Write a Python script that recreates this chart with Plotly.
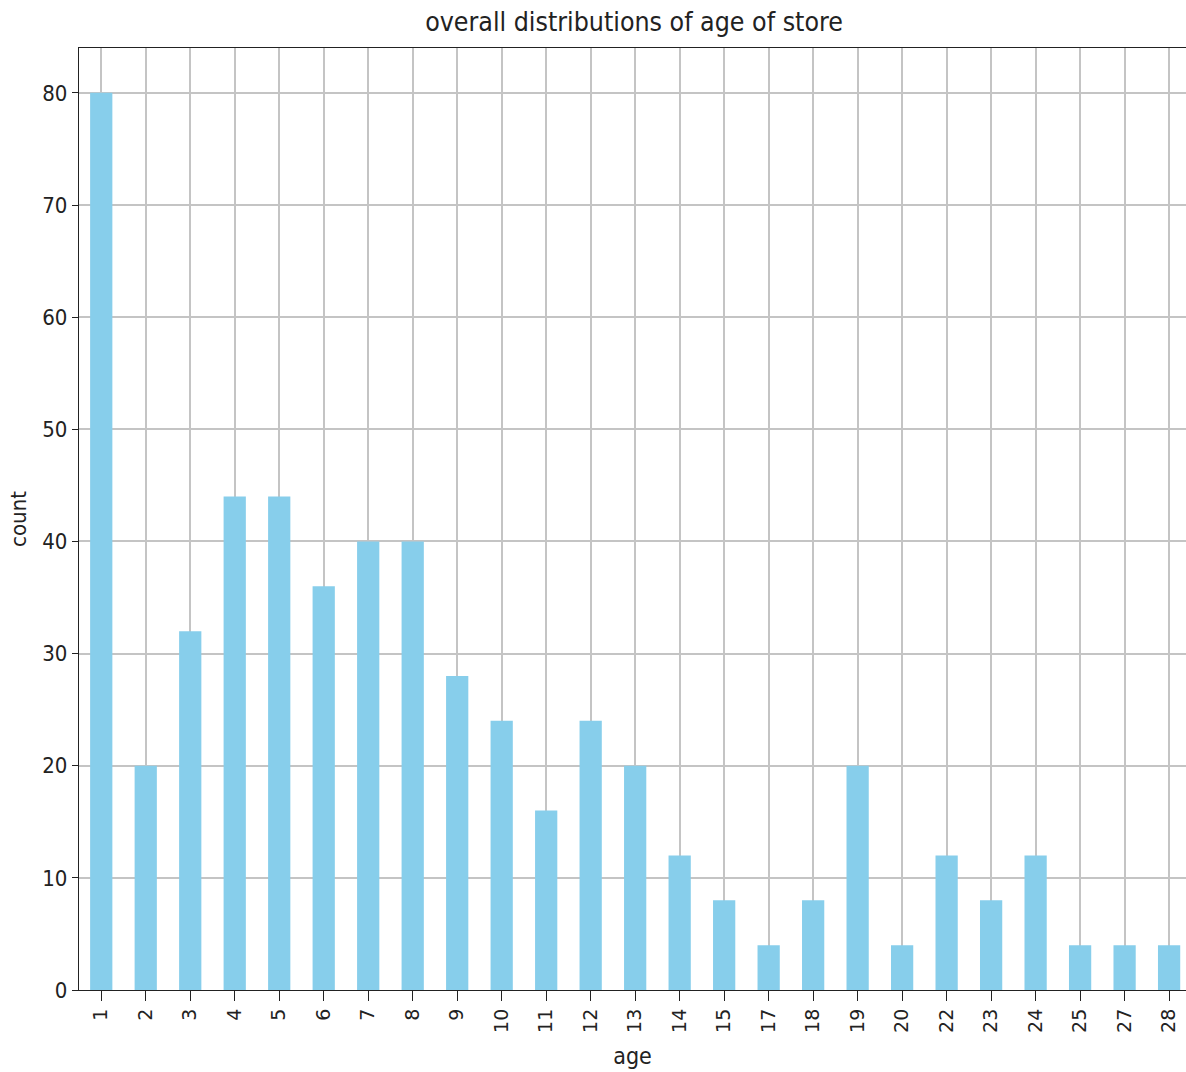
import plotly.graph_objects as go

# store age (years) and number of stores of that age
ages = ["1", "2", "3", "4", "5", "6", "7", "8", "9", "10", "11", "12", "13",
        "14", "15", "17", "18", "19", "20", "22", "23", "24", "25", "27", "28"]
counts = [80, 20, 32, 44, 44, 36, 40, 40, 28, 24, 16, 24, 20,
          12, 8, 4, 8, 20, 4, 12, 8, 12, 4, 4, 4]

y_ticks = [0, 10, 20, 30, 40, 50, 60, 70, 80]

NARROW = "Liberation Sans Narrow, DejaVu Sans Condensed, Arial Narrow, sans-serif"
GRID = "#c4c4c4"
INK = "#222222"

fig = go.Figure(
    go.Bar(
        x=ages,
        y=counts,
        width=0.5,
        marker=dict(color="#87CEEB", line=dict(width=0)),
    )
)

fig.update_layout(
    width=1186,
    height=1072,
    margin=dict(l=79, r=0, t=48, b=82),
    paper_bgcolor="white",
    plot_bgcolor="white",
    showlegend=False,
    title=dict(
        text="overall distributions of age of store",
        x=634 / 1186,
        xanchor="center",
        y=1 - 22 / 1072,
        yanchor="middle",
        font=dict(family=NARROW, size=26.5, color=INK),
    ),
)

fig.update_xaxes(
    type="category",
    range=[-0.5, 24.38],
    showgrid=True,
    gridcolor=GRID,
    gridwidth=1.6,
    showline=True,
    linecolor=INK,
    linewidth=1.3,
    mirror=True,
    ticks="outside",
    ticklen=10,
    tickwidth=1.3,
    tickcolor=INK,
    tickangle=-90,
    tickfont=dict(family="DejaVu Sans", size=19, color=INK),
    layer="above traces",
    title=dict(
        text="age",
        font=dict(family=NARROW, size=23, color=INK),
        standoff=15,
    ),
)

fig.update_yaxes(
    range=[0, 84],
    tickvals=y_ticks,
    showgrid=True,
    gridcolor=GRID,
    gridwidth=1.6,
    zeroline=False,
    showline=True,
    linecolor=INK,
    linewidth=1.3,
    mirror=False,
    ticks="outside",
    ticklen=6,
    tickwidth=1.3,
    tickcolor=INK,
    tickfont=dict(family=NARROW, size=22, color=INK),
    layer="above traces",
    title=dict(
        text="count",
        font=dict(family=NARROW, size=22, color=INK),
        standoff=9,
    ),
)

fig.write_html("out.html")
